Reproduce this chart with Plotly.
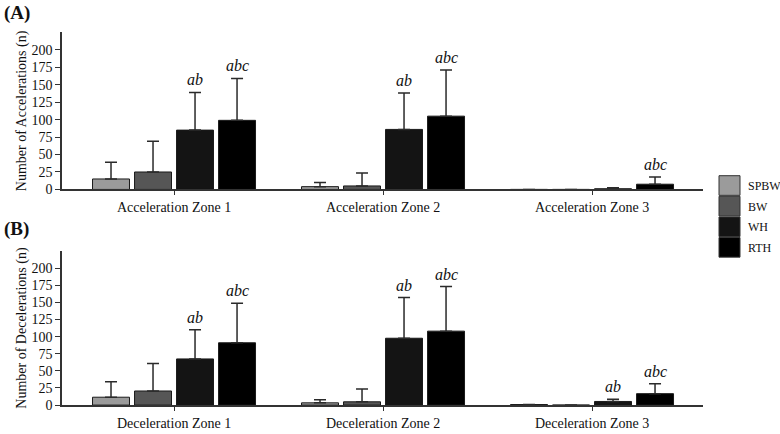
import plotly.graph_objects as go

# ---- data ----
groups = ["SPBW", "BW", "WH", "RTH"]
acc_zones = ["Acceleration Zone 1", "Acceleration Zone 2", "Acceleration Zone 3"]
dec_zones = ["Deceleration Zone 1", "Deceleration Zone 2", "Deceleration Zone 3"]

acc_mean = {"SPBW": [15, 4, 0], "BW": [25, 5, 0], "WH": [85, 86, 1], "RTH": [99, 105, 7.5]}
acc_sd = {"SPBW": [24, 6, 0], "BW": [44, 18.5, 0], "WH": [54, 52, 1.5], "RTH": [60, 66, 10.5]}
dec_mean = {"SPBW": [11.5, 3.3, 0.8], "BW": [20.6, 4.8, 0], "WH": [67.4, 97.6, 5.3], "RTH": [91, 108, 16.7]}
dec_sd = {"SPBW": [22.5, 4.4, 0], "BW": [40, 18.6, 0], "WH": [42.6, 59.4, 3.3], "RTH": [57.8, 65, 14.3]}

acc_sig = {(0, "WH"): "ab", (0, "RTH"): "abc", (1, "WH"): "ab", (1, "RTH"): "abc", (2, "RTH"): "abc"}
dec_sig = {(0, "WH"): "ab", (0, "RTH"): "abc", (1, "WH"): "ab", (1, "RTH"): "abc", (2, "WH"): "ab", (2, "RTH"): "abc"}

y_ticks = [0, 25, 50, 75, 100, 125, 150, 175, 200]

# ---- style ----
colors = {"SPBW": "#9b9b9b", "BW": "#565656", "WH": "#141414", "RTH": "#000000"}
SERIF = "Liberation Serif, Times New Roman, serif"
W, H = 780, 434
BARGAP = 0.196
GROUPGAP = 0.12

fig = go.Figure()

panels = [
    (acc_zones, acc_mean, acc_sd, acc_sig, "x", "y", "Number of Accelerations (n)"),
    (dec_zones, dec_mean, dec_sd, dec_sig, "x2", "y2", "Number of Decelerations (n)"),
]

slot = (1 - BARGAP) / len(groups)
for zones, means, sds, sig, xa, ya, _ in panels:
    for gi, g in enumerate(groups):
        fig.add_trace(go.Bar(
            x=zones, y=means[g], name=g, xaxis=xa, yaxis=ya,
            marker=dict(color=colors[g], line=dict(color="#1a1a1a", width=1)),
            error_y=dict(type="data", array=sds[g], arrayminus=[0] * len(zones),
                         symmetric=False, color="#2a2a2a", thickness=1.5, width=6),
            showlegend=False,
        ))
    for (zi, g), txt in sig.items():
        gi = groups.index(g)
        xpos = zi + (gi - (len(groups) - 1) / 2) * slot
        fig.add_annotation(x=xpos, y=means[g][zi] + sds[g][zi], xref=xa, yref=ya,
                           text="<i>" + txt + "</i>", showarrow=False, yanchor="bottom",
                           yshift=2, font=dict(family=SERIF, size=16, color="#111"))

xdom = [62 / W, 703 / W]
ydomA = [1 - 193 / H, 1 - 33 / H]
ydomB = [1 - 412.7 / H, 1 - 255.7 / H]

axis_common = dict(showline=True, linecolor="#333", linewidth=1.5, showgrid=False,
                   zeroline=False, ticks="outside", tickcolor="#333",
                   tickfont=dict(family=SERIF, size=14, color="#111"))

xa_common = dict(axis_common, range=[-0.536, 2.531], ticklen=4, tickwidth=1.2)
fig.update_layout(
    xaxis=dict(xa_common, domain=xdom, anchor="y"),
    xaxis2=dict(xa_common, domain=xdom, anchor="y2"),
    yaxis=dict(axis_common, domain=ydomA, range=[0, 225], tickvals=y_ticks, ticklen=5,
               anchor="x", title=dict(text=panels[0][6], standoff=2,
                                      font=dict(family=SERIF, size=14, color="#111"))),
    yaxis2=dict(axis_common, domain=ydomB, range=[0, 225], tickvals=y_ticks, ticklen=5,
                anchor="x2", title=dict(text=panels[1][6], standoff=2,
                                        font=dict(family=SERIF, size=14, color="#111"))),
    barmode="group", bargap=BARGAP, bargroupgap=GROUPGAP,
    width=W, height=H, margin=dict(l=0, r=0, t=0, b=0),
    paper_bgcolor="white", plot_bgcolor="white", showlegend=False,
)

fig.add_annotation(x=2 / W, y=1 - 13 / H, xref="paper", yref="paper", text="<b>(A)</b>",
                   showarrow=False, xanchor="left", yanchor="middle",
                   font=dict(family=SERIF, size=19, color="#111"))
fig.add_annotation(x=2 / W, y=1 - 233 / H, xref="paper", yref="paper", text="<b>(B)</b>",
                   showarrow=False, xanchor="left", yanchor="middle",
                   font=dict(family=SERIF, size=19, color="#111"))

# legend with large swatches
box_x0, box_x1 = 719, 740
box_top, box_h = 179, 21
for i, g in enumerate(groups):
    y0 = box_top + i * box_h
    fig.add_shape(type="rect", xref="paper", yref="paper",
                  x0=box_x0 / W, x1=box_x1 / W, y0=1 - (y0 + box_h - 1) / H, y1=1 - y0 / H,
                  fillcolor=colors[g], line=dict(color="#333", width=1))
    fig.add_annotation(x=746 / W, y=1 - (y0 + box_h / 2) / H, xref="paper", yref="paper",
                       text=g, showarrow=False, xanchor="left", yanchor="middle",
                       font=dict(family=SERIF, size=12, color="#111"))

fig.write_html("out.html")
